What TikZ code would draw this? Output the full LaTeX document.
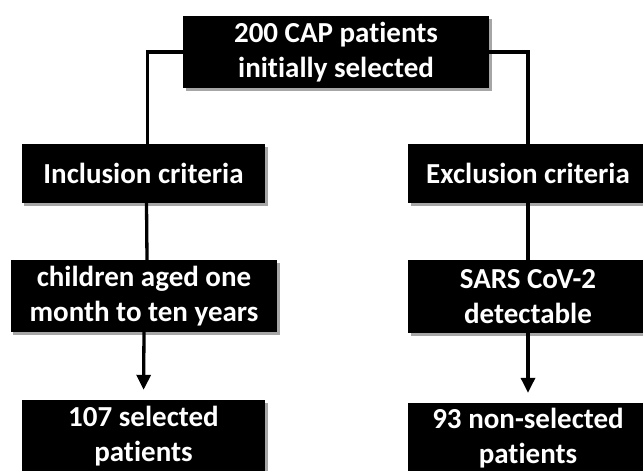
\documentclass[tikz,border=0pt]{standalone}
\usepackage{fontspec}
\setmainfont{Carlito}[Ligatures=NoCommon]
\usetikzlibrary{arrows.meta,shadows}
\begin{document}
\begin{tikzpicture}[x=1bp,y=-1bp,
  cbox/.style={fill=black,text=white,align=center,inner sep=0pt,
    font=\bfseries\fontsize{29bp}{35bp}\selectfont,
    drop shadow={shadow xshift=2.5bp,shadow yshift=-3bp,fill=black,opacity=.35}},
  link/.style={line width=3.3bp},
  flow/.style={link,-{Triangle[width=14bp,length=15bp]},shorten >=10bp}]
\useasboundingbox (0,0) rectangle (643,471);
\clip (0,0) rectangle (643,471);

% top
\node[cbox,minimum width=306bp,minimum height=72.6bp] (all) at (336,52) {200 CAP patients\\initially selected};

% left branch
\node[cbox,minimum width=243bp,minimum height=59bp] (incl) at (143.5,173.5) {Inclusion criteria};
\node[cbox,minimum width=266bp,minimum height=72bp] (age) at (144,296) {children aged one\\month to ten years};
\node[cbox,minimum width=243bp,minimum height=72bp] (sel) at (143.5,436) {107 selected\\patients};

% right branch
\node[cbox,minimum width=240bp,minimum height=59bp] (excl) at (528,173.5) {Exclusion criteria};
\node[cbox,minimum width=240bp,minimum height=72.6bp] (sars) at (528,296.7) {SARS CoV-2\\detectable};
\node[cbox,minimum width=240bp,minimum height=70bp] (nonsel) at (528,438) {93 non-selected\\patients};

\draw[link] (all.west) -| ([xshift=4bp]incl.north);
\draw[link] (all.east) -| (excl.north);
\draw[link] ([xshift=3bp]incl.south) -- ([xshift=3bp]age.north);
\draw[link] (excl) -- (sars);
\draw[flow] (age.south) -- (sel.north);
\draw[flow] (sars.south) -- (nonsel.north);
\end{tikzpicture}
\end{document}
